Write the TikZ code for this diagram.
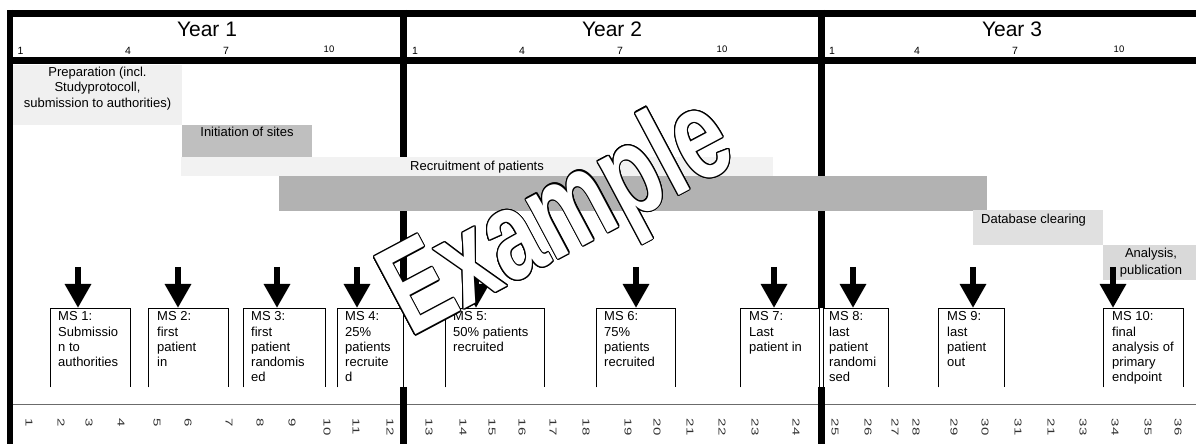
\documentclass[tikz,border=0pt]{standalone}
\usepackage{fontspec}
\setmainfont{Liberation Sans}
\usetikzlibrary{arrows.meta}
\begin{document}
\begin{tikzpicture}[x=1pt,y=1pt,
  rulebar/.style={line width=7pt},
  gridrule/.style={line width=1.5pt, draw=black!58},
  phase/.style={draw=none, inner sep=0, anchor=north west},
  txt/.style={font=\fontsize{13}{15.3}\selectfont, inner sep=0},
  yearlbl/.style={font=\fontsize{21}{24}\selectfont, inner sep=0, anchor=base},
  monlbl/.style={font=\fontsize{10.5}{12}\selectfont, inner sep=0, anchor=base},
  monlblb/.style={font=\fontsize{9.5}{11}\selectfont, inner sep=0, anchor=base},
  msbox/.style={fill=white, draw=none, inner sep=0, minimum height=79pt, anchor=north west},
  msline/.style={line width=0.9pt},
  mstext/.style={txt, align=left, anchor=north west},
  msarrow/.style={line width=6pt, -{Triangle[width=25pt,length=24pt]}},
  daynum/.style={font=\fontsize{10}{12}\selectfont, inner sep=0, rotate=-90, xscale=1.5, anchor=west, text=black!80},
  wm/.style={font=\fontsize{128}{128}\selectfont\bfseries, inner sep=0, anchor=base west, xscale=0.71, transform shape}
]
\useasboundingbox (0,0) rectangle (1196,444);
\fill[white] (0,0) rectangle (1196,444);

% header rules
\coordinate (tl) at (7,430.5);
\coordinate (tr) at (1196,430.5);
\coordinate (hl) at (7,383);
\coordinate (hr) at (1196,383);
\draw[rulebar] (tl) -- (tr);
\draw[rulebar] (hl) -- (hr);

% bottom grid line
\coordinate (gl) at (13,39.5);
\coordinate (gr) at (1196,39.5);
\draw[gridrule] (gl) -- (gr);

% vertical rules
\coordinate (lv1) at (10,434);
\coordinate (lv2) at (10,0);
\draw[line width=6.5pt] (lv1) -- (lv2);
\coordinate (d1a) at (403,434);
\coordinate (d1b) at (403,136);
\coordinate (d1c) at (403,57);
\coordinate (d1d) at (403,0);
\draw[rulebar] (d1a) -- (d1b);
\draw[rulebar] (d1c) -- (d1d);
\coordinate (d2a) at (821,434);
\coordinate (d2b) at (821,136);
\coordinate (d2c) at (821,57);
\coordinate (d2d) at (821,0);
\draw[rulebar] (d2a) -- (d2b);
\draw[rulebar] (d2c) -- (d2d);

% header labels
\node[yearlbl] (y1) at (207,407.3) {Year 1};
\node[yearlbl] (y2) at (612,407.3) {Year 2};
\node[yearlbl] (y3) at (1012,407.3) {Year 3};
\node[monlbl] (y1m1) at (20.5,389.7) {1};
\node[monlbl] (y1m4) at (128,389.7) {4};
\node[monlbl] (y1m7) at (226,389.7) {7};
\node[monlblb] (y1m10) at (329,391) {10};
\node[monlbl] (y2m1) at (415,389.7) {1};
\node[monlbl] (y2m4) at (522,389.7) {4};
\node[monlbl] (y2m7) at (620,389.7) {7};
\node[monlblb] (y2m10) at (722,391) {10};
\node[monlbl] (y3m1) at (832,389.7) {1};
\node[monlbl] (y3m4) at (917,389.7) {4};
\node[monlbl] (y3m7) at (1015,389.7) {7};
\node[monlblb] (y3m10) at (1119,391) {10};

% phase bars
\node[phase, fill=black!6, minimum width=169pt, minimum height=60pt] (prep) at (13,379) {};
\node[txt, align=center, anchor=north] (prept) at (97.5,377) {Preparation (incl.\\Studyprotocoll,\\submission to authorities)};
\node[phase, fill=black!25, minimum width=130pt, minimum height=32pt] (init) at (182,319) {};
\node[txt, anchor=base] (initt) at (247,307) {Initiation of sites};
\node[phase, fill=black!5, minimum width=592pt, minimum height=19pt] (recr) at (181,287) {};
\node[txt, anchor=base west] (recrt) at (410,273) {Recruitment of patients};
\node[phase, fill=black!30, minimum width=708pt, minimum height=35pt] (treat) at (279,268) {};
\node[phase, fill=black!12, minimum width=130pt, minimum height=35pt] (dbc) at (973,234) {};
\node[txt, anchor=base west] (dbct) at (981,220) {Database clearing};
\node[phase, fill=black!15, minimum width=93pt, minimum height=35pt] (anal) at (1103,199) {};
\node[txt, font=\fontsize{13}{17}\selectfont, align=center, anchor=north] (analt) at (1151,196.5) {Analysis,\\publication};

% milestone boxes
\newcommand\msb[5]{%
  \node[msbox, minimum width=#3pt] (#1) at (#2,136) {};
  \draw[msline] (#1.south west) -- (#1.north west) -- (#1.north east) -- (#1.south east);
  \node[mstext] (#1t) at ([xshift=#4pt, yshift=-3.5pt]#1.north west) {#5};
}
\msb{m1}{50}{80}{8}{MS 1:\\Submissio\\n to\\authorities}
\msb{m2}{148}{80}{9}{MS 2:\\first\\patient\\in}
\msb{m3}{243}{82}{8}{MS 3:\\first\\patient\\randomis\\ed}
\msb{m4}{337}{66}{8}{MS 4:\\25\%\\patients\\recruite\\d}
\msb{m5}{445}{99}{8}{MS 5:\\50\% patients\\recruited}
\msb{m6}{596}{79}{8}{MS 6:\\75\%\\patients\\recruited}
\msb{m7}{740}{79}{9}{MS 7:\\Last\\patient in}
\msb{m8}{823}{65}{6}{MS 8:\\last\\patient\\randomi\\sed}
\msb{m9}{938}{66}{9}{MS 9:\\last\\patient\\out}
\msb{m10}{1103}{80}{9}{MS 10:\\final\\analysis of\\primary\\endpoint}

% milestone arrows
\foreach \xx/\n in {78/1,178/2,277/3,357/4,476/5,636/6,774/7,853/8,973/9,1113/10}{
  \coordinate (a\n) at (\xx,177);
  \draw[msarrow] (a\n) -- (a\n |- m\n.north);
}

% month numbers
\foreach \xx/\t [count=\i] in {29/1,61/2,89/3,121/4,157/5,188/6,229/7,260/8,292/9,327/10,356/11,390/12,429/13,463/14,492/15,522/16,553/17,586/18,628/19,657/20,690/21,722/22,755/23,796/24,835/25,868/26,895/27,916/28,954/29,985/30,1018/31,1051/21,1083/33,1115/34,1148/35,1178/36}{
  \node[daynum] (dn\i) at (\xx,25.5) {\t};
}

% watermark
\begin{scope}[shift={(410,106)}, rotate=28]
  \foreach \a [count=\i] in {0,22.5,...,337.5}
    \node[wm, text=black] (wmo\i) at (\a:1.1) {Example};
  \node[wm, text=white] (wmark) at (0,0) {Example};
\end{scope}
\end{tikzpicture}
\end{document}
